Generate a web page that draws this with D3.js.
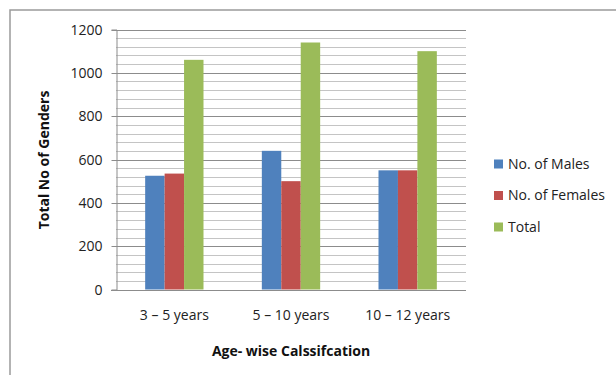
<!DOCTYPE html>
<html><head><meta charset="utf-8">
<script src="https://cdn.jsdelivr.net/npm/d3@7"></script>
<style>body{margin:0;background:#fff;}svg{display:block;}</style>
</head><body>
<script>
const categories = ["3 \u2013 5 years", "5 \u2013 10 years", "10 \u2013 12 years"];
const seriesNames = ["No. of Males", "No. of Females", "Total"];
const males = [525, 640, 550];
const females = [535, 500, 550];
const totals = [1060, 1140, 1100];
const yTicks = [0, 200, 400, 600, 800, 1000, 1200];
const colors = ["#4F81BD", "#C0504D", "#9BBB59"];

(function () {
const W = 616, H = 375;
const svg = d3.select("body").append("svg").attr("width", W).attr("height", H);
svg.append("rect").attr("x", 10).attr("y", 10).attr("width", W + 10).attr("height", H + 10)
  .attr("fill", "#fff").attr("stroke", "#9a9a9a").attr("stroke-width", 1.5);

const pLeft = 116, pRight = 466, pTop = 29.5, pBottom = 289.5;
const x = d3.scaleBand().domain(categories).range([pLeft, pRight]);
const xs = d3.scaleBand().domain(seriesNames).range([0, x.bandwidth()]).paddingInner(0).paddingOuter(1.5);
const y = d3.scaleLinear().domain([0, 1200]).range([pBottom, pTop]);

const font = "'Open Sans', 'Liberation Sans', sans-serif";
const g = svg.append("g");
const minor = d3.range(0, 1201, 40);
g.selectAll("line.minor").data(minor).enter().append("line")
  .attr("x1", pLeft).attr("x2", pRight)
  .attr("y1", d => Math.round(y(d)) + 0.5).attr("y2", d => Math.round(y(d)) + 0.5)
  .attr("stroke", d => d % 200 === 0 ? "#8c8c8c" : "#c4c4c4").attr("stroke-width", 1);

const yAxis = d3.axisLeft(y).tickValues(yTicks).tickFormat(d3.format("d")).tickSize(5).tickPadding(9);
const ya = g.append("g").attr("transform", `translate(${pLeft + 0.5},0)`).call(yAxis);
ya.select(".domain").attr("stroke", "#8c8c8c");
ya.selectAll(".tick line").attr("stroke", "#8c8c8c");
ya.selectAll(".tick text").attr("font-family", font).attr("font-size", 14).attr("fill", "#222");
ya.selectAll(".tick").attr("transform", d => `translate(0,${Math.round(y(d)) + 0.5})`);

const data = categories.map((c, i) => ({c, vals: [males[i], females[i], totals[i]]}));
const groups = g.selectAll("g.grp").data(data).enter().append("g")
  .attr("transform", d => `translate(${x(d.c)},0)`);
groups.selectAll("rect").data(d => d.vals.map((v, j) => ({v, s: seriesNames[j], j}))).enter().append("rect")
  .attr("x", d => xs(d.s)).attr("width", xs.bandwidth())
  .attr("y", d => y(d.v)).attr("height", d => pBottom - y(d.v))
  .attr("fill", d => colors[d.j]);

const xAxis = d3.axisBottom(x).tickSize(0).tickPadding(20);
const xa = g.append("g").attr("transform", `translate(0,${Math.round(pBottom) + 0.5})`).call(xAxis);
xa.select(".domain").attr("stroke", "#8c8c8c").attr("d", `M${pLeft - 5},0H${pRight}`);
xa.selectAll(".tick text").attr("font-family", font).attr("font-size", 14).attr("fill", "#222");

svg.append("text").attr("x", 291).attr("y", 356).attr("text-anchor", "middle")
  .attr("font-family", font).attr("font-weight", "bold").attr("font-size", 14).attr("fill", "#111")
  .text("Age- wise Calssifcation");
svg.append("text").attr("transform", "translate(49,160) rotate(-90)").attr("text-anchor", "middle")
  .attr("font-family", font).attr("font-weight", "bold").attr("font-size", 14).attr("fill", "#111")
  .text("Total No of Genders");

const legend = svg.append("g");
const ly = d3.scalePoint().domain(seriesNames).range([164, 227]);
const li = legend.selectAll("g").data(seriesNames).enter().append("g")
  .attr("transform", d => `translate(494,${ly(d)})`);
li.append("rect").attr("x", 0).attr("y", -4.5).attr("width", 9).attr("height", 9)
  .attr("fill", (d, i) => colors[i]);
li.append("text").attr("x", 14).attr("y", 0).attr("dy", "0.35em")
  .attr("font-family", font).attr("font-size", 14).attr("fill", "#222").text(d => d);
})();
</script>
</body></html>
